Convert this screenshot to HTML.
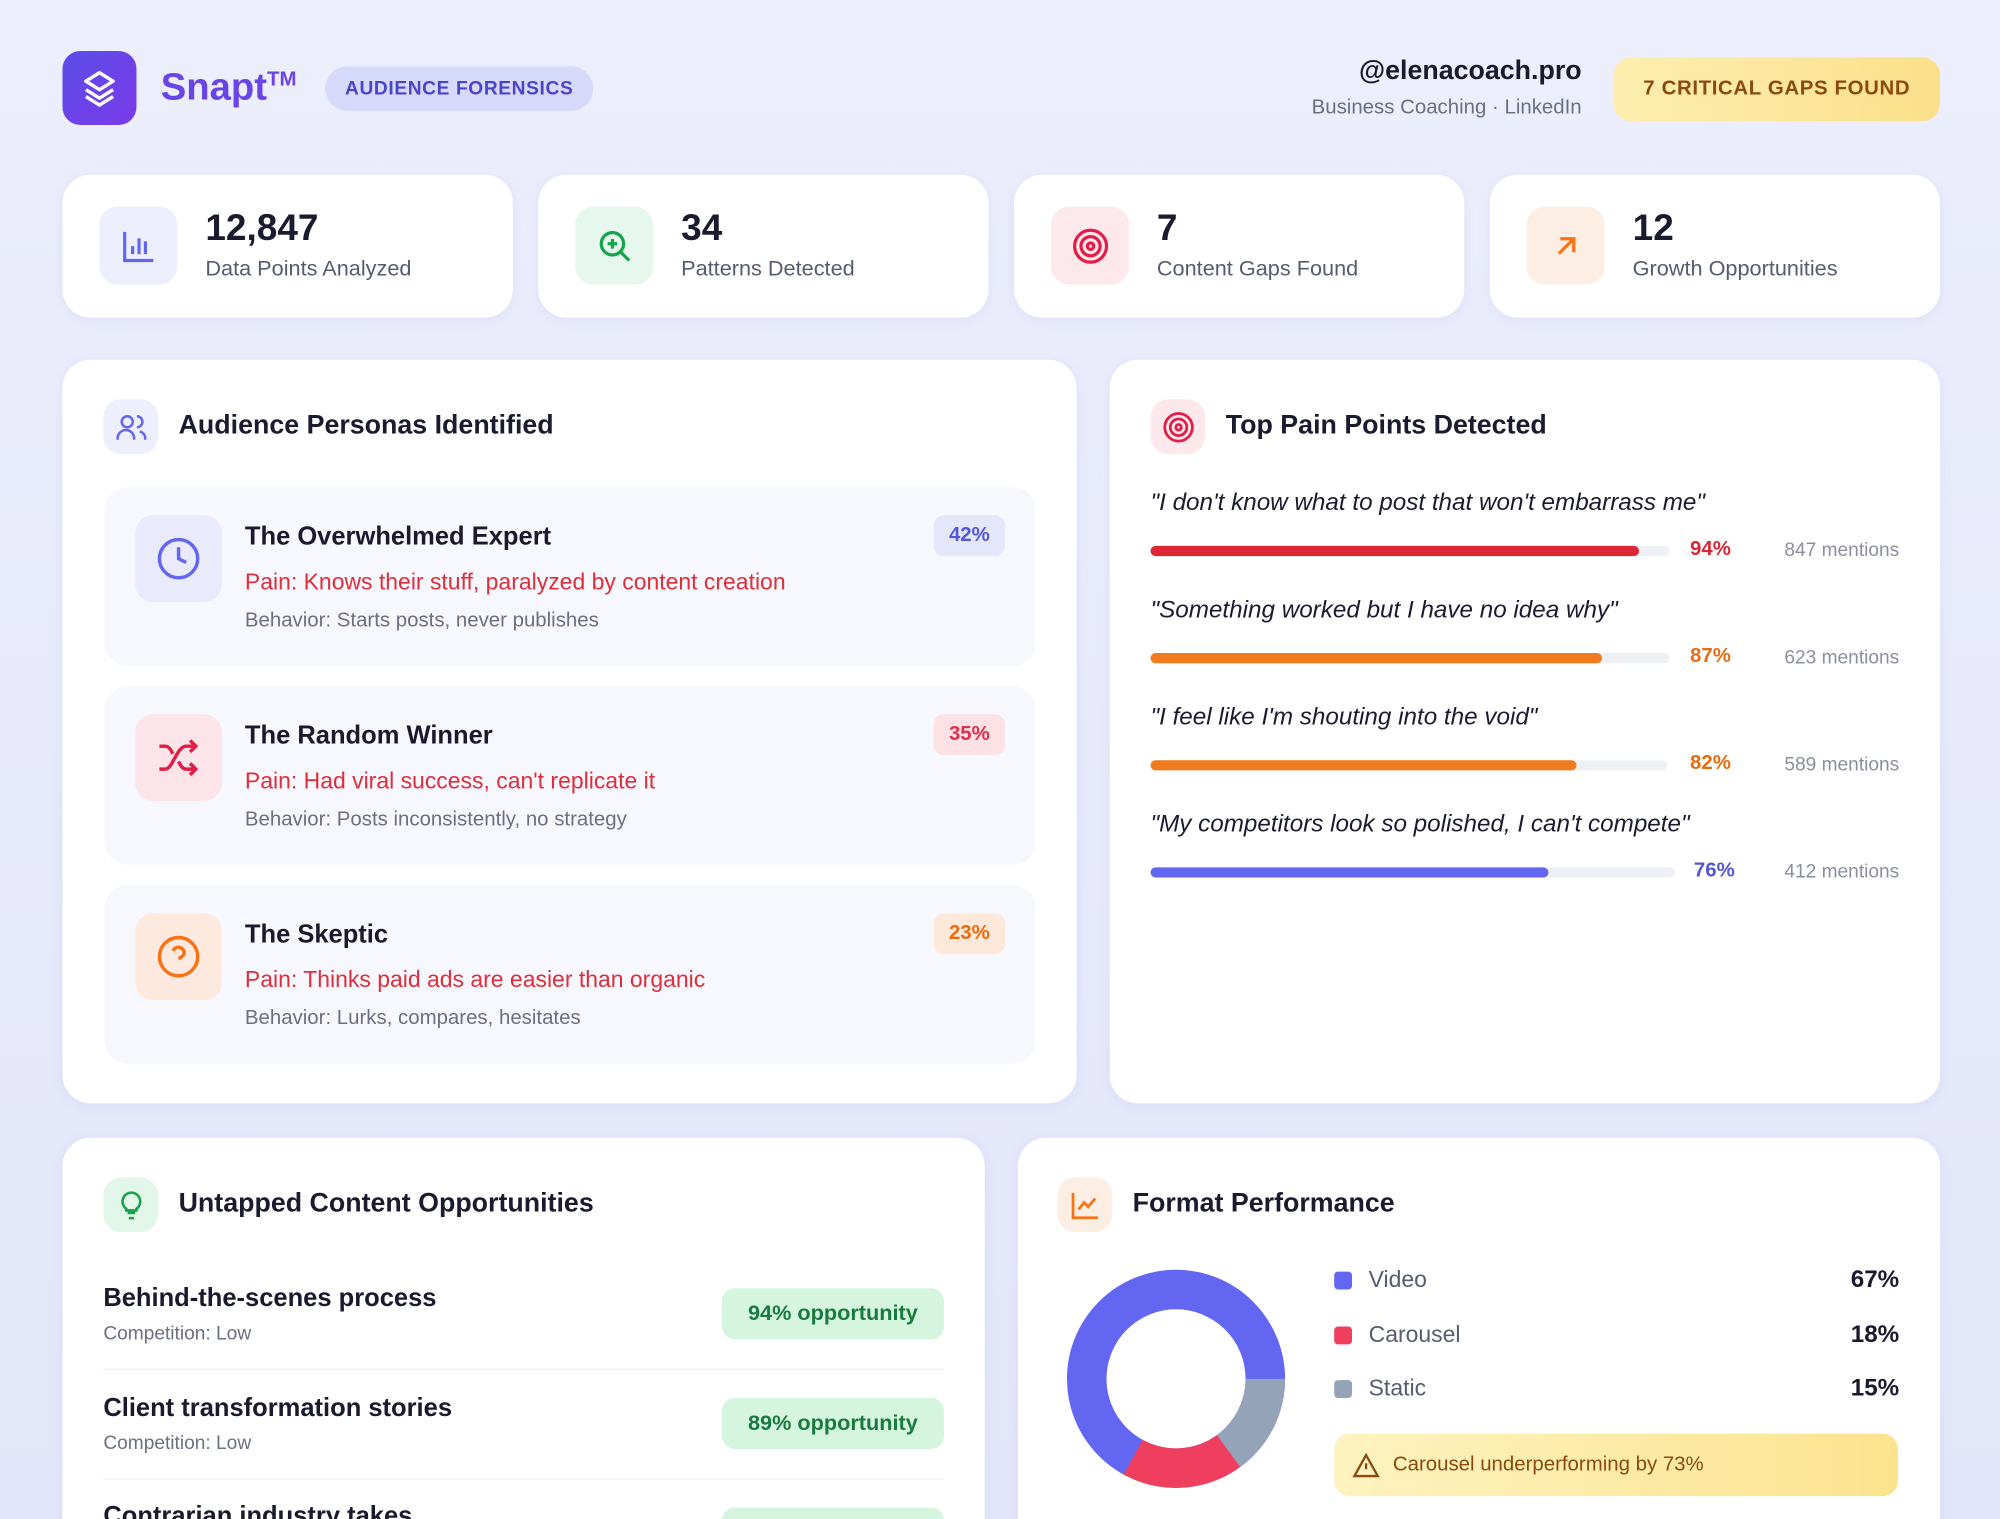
<!DOCTYPE html>
<html><head><meta charset="utf-8"><style>
*{box-sizing:border-box;margin:0;padding:0}
html,body{width:2000px;height:1519px;overflow:hidden;background:#e8ebfb}
#w{width:1568px;height:1191px;transform:scale(1.27551);transform-origin:0 0;position:relative;font-family:"Liberation Sans",sans-serif;color:#1a1a2e;background:linear-gradient(180deg,#eceefc,#e3e6fa)}
.a{position:absolute}
.card{position:absolute;background:#fff;border-radius:22px;box-shadow:0 2px 10px rgba(90,100,200,.08)}
.ic{position:absolute;border-radius:14px;display:flex;align-items:center;justify-content:center}
.big{font-size:29px;font-weight:bold;color:#1b1b2f}
.lab{font-size:17px;color:#555c6e}
.h{font-size:21px;font-weight:bold;color:#1b1b2f}
.per{position:absolute;left:82px;width:730px;height:140px;background:#f7f8fd;border-radius:18px}
.pt{position:absolute;left:110px;font-size:20px;font-weight:bold}
.pp{position:absolute;left:110px;top:64px;font-size:18px;color:#e02d3c}
.pb{position:absolute;left:110px;top:96px;font-size:16px;color:#6b7080}
.badge{position:absolute;right:24px;top:22px;padding:7px 12px;border-radius:8px;font-size:16px;font-weight:bold}
.q{position:absolute;left:32px;font-size:19px;font-style:italic;color:#1b1b2f}
.bar{position:absolute;left:32px;height:8px;border-radius:4px;background:#eef0f5}
.bar i{display:block;height:8px;border-radius:4px}
.pc{position:absolute;font-size:16px;font-weight:bold}
.mn{position:absolute;right:32px;font-size:15px;color:#8a8f9c}
.op{position:absolute;left:32px;font-size:20px;font-weight:bold}
.oc{position:absolute;left:32px;font-size:15px;color:#6b7080}
.ob{position:absolute;right:32px;width:174px;height:40px;border-radius:10px;background:#d5f5df;color:#187a3c;font-weight:bold;font-size:17px;text-align:center;line-height:40px}
</style></head><body><div id="w">
<div class="a" style="left:49px;top:40px;width:58px;height:58px;border-radius:14px;background:linear-gradient(135deg,#5b4de8,#7b3ae8);display:flex;align-items:center;justify-content:center">
<svg width="32" height="32" viewBox="0 0 24 24" fill="none" stroke="#fff" stroke-width="2" stroke-linejoin="round"><path d="M12 3l8 5-8 5-8-5z"/><path d="M4 13l8 5 8-5"/><path d="M4 17l8 5 8-5"/></svg></div>
<div class="a" style="left:126px;top:52px;font-size:30px;font-weight:bold;color:#6a45e5">Snapt<sup style="font-size:16px">TM</sup></div>
<div class="a" style="left:255px;top:52px;width:210px;height:35px;border-radius:18px;background:#d7d9fa;color:#4a45c8;font-weight:bold;font-size:15px;letter-spacing:.5px;text-align:center;line-height:35px">AUDIENCE FORENSICS</div>
<div class="a" style="right:328px;top:44px;font-size:21px;font-weight:bold;text-align:right">@elenacoach.pro</div>
<div class="a" style="right:328px;top:76px;font-size:16px;color:#6b7080;text-align:right">Business Coaching · LinkedIn</div>
<div class="a" style="left:1265px;top:45px;width:256px;height:50px;border-radius:14px;background:linear-gradient(90deg,#fdeeb0,#fbe08a);color:#8a4a10;font-weight:bold;font-size:16px;letter-spacing:.5px;text-align:center;line-height:50px">7 CRITICAL GAPS FOUND</div>

<div class="card" style="left:49px;top:137px;width:353px;height:112px"><div class="ic" style="left:29px;top:25px;width:61px;height:61px;background:#eeeffc"><svg width="30" height="30" viewBox="0 0 24 24" fill="none" stroke="#6366f1" stroke-width="2"><path d="M3 3v18h18M8 17v-5M12 17V7M16 17v-8"/></svg></div><div class="a big" style="left:112px;top:26px">12,847</div><div class="a lab" style="left:112px;top:64px">Data Points Analyzed</div></div>
<div class="card" style="left:422px;top:137px;width:353px;height:112px"><div class="ic" style="left:29px;top:25px;width:61px;height:61px;background:#e6f7ee"><svg width="30" height="30" viewBox="0 0 24 24" fill="none" stroke="#16a34a" stroke-width="2"><circle cx="10.5" cy="10.5" r="7"/><path d="M16 16l5 5M10.5 7.5v6M7.5 10.5h6"/></svg></div><div class="a big" style="left:112px;top:26px">34</div><div class="a lab" style="left:112px;top:64px">Patterns Detected</div></div>
<div class="card" style="left:795px;top:137px;width:353px;height:112px"><div class="ic" style="left:29px;top:25px;width:61px;height:61px;background:#fde8ec"><svg width="30" height="30" viewBox="0 0 24 24" fill="none" stroke="#e11d48" stroke-width="2"><circle cx="12" cy="12" r="10"/><circle cx="12" cy="12" r="6"/><circle cx="12" cy="12" r="2"/></svg></div><div class="a big" style="left:112px;top:26px">7</div><div class="a lab" style="left:112px;top:64px">Content Gaps Found</div></div>
<div class="card" style="left:1168px;top:137px;width:353px;height:112px"><div class="ic" style="left:29px;top:25px;width:61px;height:61px;background:#fdeee4"><svg width="28" height="28" viewBox="0 0 24 24" fill="none" stroke="#f97316" stroke-width="2.2"><path d="M7 17L17 7M8 7h9v9"/></svg></div><div class="a big" style="left:112px;top:26px">12</div><div class="a lab" style="left:112px;top:64px">Growth Opportunities</div></div>

<div class="card" style="left:49px;top:282px;width:795px;height:583px">
<div class="ic" style="left:32px;top:31px;width:43px;height:43px;background:#eeeffc"><svg width="26" height="26" viewBox="0 0 24 24" fill="none" stroke="#6366f1" stroke-width="1.8"><circle cx="9" cy="8" r="4"/><path d="M2 21v-1a6 6 0 0112 0v1M16 4a4 4 0 010 8M18 15a5 5 0 014 5v1"/></svg></div>
<div class="a h" style="left:91px;top:40px">Audience Personas Identified</div>
</div>
<div class="per" style="left:82px;top:382px"></div>
<div class="per" style="left:82px;top:538px"></div>
<div class="per" style="left:82px;top:694px"></div>
<div class="a" style="left:82px;top:382px;width:730px;height:140px">
<div class="ic" style="left:24px;top:22px;width:68px;height:68px;background:#e9eafb"><svg width="36" height="36" viewBox="0 0 24 24" fill="none" stroke="#6366f1" stroke-width="1.8"><circle cx="12" cy="12" r="10"/><path d="M12 6v6l4 2"/></svg></div>
<div class="pt" style="top:28px">The Overwhelmed Expert</div><div class="pp">Pain: Knows their stuff, paralyzed by content creation</div><div class="pb">Behavior: Starts posts, never publishes</div><div class="badge" style="background:#e4e6fb;color:#5356d8">42%</div></div>
<div class="a" style="left:82px;top:538px;width:730px;height:140px">
<div class="ic" style="left:24px;top:22px;width:68px;height:68px;background:#fce4e8"><svg width="36" height="36" viewBox="0 0 24 24" fill="none" stroke="#e11d48" stroke-width="1.8"><path d="M2 18h3c4 0 6-12 11-12h5M18 3l3 3-3 3M2 6h3c2 0 3 2 4 4M21 18h-5c-2 0-3-2-4-4M18 15l3 3-3 3"/></svg></div>
<div class="pt" style="top:28px">The Random Winner</div><div class="pp">Pain: Had viral success, can't replicate it</div><div class="pb">Behavior: Posts inconsistently, no strategy</div><div class="badge" style="background:#fce1e5;color:#e02d4c">35%</div></div>
<div class="a" style="left:82px;top:694px;width:730px;height:140px">
<div class="ic" style="left:24px;top:22px;width:68px;height:68px;background:#fde9dd"><svg width="36" height="36" viewBox="0 0 24 24" fill="none" stroke="#f97316" stroke-width="1.8"><circle cx="12" cy="12" r="10"/><path d="M9.1 9a3 3 0 015.8 1c0 2-3 3-3 3M12 17h.01"/></svg></div>
<div class="pt" style="top:28px">The Skeptic</div><div class="pp">Pain: Thinks paid ads are easier than organic</div><div class="pb">Behavior: Lurks, compares, hesitates</div><div class="badge" style="background:#fde8da;color:#ea6a10">23%</div></div>

<div class="card" style="left:870px;top:282px;width:651px;height:583px">
<div class="ic" style="left:32px;top:31px;width:43px;height:43px;background:#fde8ec"><svg width="26" height="26" viewBox="0 0 24 24" fill="none" stroke="#e11d48" stroke-width="2"><circle cx="12" cy="12" r="10"/><circle cx="12" cy="12" r="6"/><circle cx="12" cy="12" r="2"/></svg></div>
<div class="a h" style="left:91px;top:40px">Top Pain Points Detected</div>
<div class="q" style="top:102px">"I don't know what to post that won't embarrass me"</div>
<div class="bar" style="top:146px;width:407px"><i style="width:383px;background:#dc2634"></i></div><div class="pc" style="left:455px;top:140px;color:#dc2634">94%</div><div class="mn" style="top:141px">847 mentions</div>
<div class="q" style="top:186px">"Something worked but I have no idea why"</div>
<div class="bar" style="top:230px;width:407px"><i style="width:354px;background:#f07a1e"></i></div><div class="pc" style="left:455px;top:224px;color:#ea6a10">87%</div><div class="mn" style="top:225px">623 mentions</div>
<div class="q" style="top:270px">"I feel like I'm shouting into the void"</div>
<div class="bar" style="top:314px;width:405px"><i style="width:334px;background:#f07a1e"></i></div><div class="pc" style="left:455px;top:308px;color:#ea6a10">82%</div><div class="mn" style="top:309px">589 mentions</div>
<div class="q" style="top:354px">"My competitors look so polished, I can't compete"</div>
<div class="bar" style="top:398px;width:411px"><i style="width:312px;background:#6366f1"></i></div><div class="pc" style="left:458px;top:392px;color:#5356d8">76%</div><div class="mn" style="top:393px">412 mentions</div>
</div>

<div class="card" style="left:49px;top:892px;width:723px;height:330px">
<div class="ic" style="left:32px;top:31px;width:43px;height:43px;background:#e3f6ea"><svg width="24" height="24" viewBox="0 0 24 24" fill="none" stroke="#16a34a" stroke-width="2"><path d="M9 18h6M10 22h4M12 2a7 7 0 00-4 12.7V16h8v-1.3A7 7 0 0012 2z"/></svg></div>
<div class="a h" style="left:91px;top:40px">Untapped Content Opportunities</div>
<div class="op" style="top:115px">Behind-the-scenes process</div><div class="oc" style="top:145px">Competition: Low</div><div class="ob" style="top:118px">94% opportunity</div>
<div class="a" style="left:32px;right:32px;top:181px;height:1px;background:#eceef3"></div>
<div class="op" style="top:201px">Client transformation stories</div><div class="oc" style="top:231px">Competition: Low</div><div class="ob" style="top:204px">89% opportunity</div>
<div class="a" style="left:32px;right:32px;top:267px;height:1px;background:#eceef3"></div>
<div class="op" style="top:286px">Contrarian industry takes</div><div class="ob" style="top:290px">85% opportunity</div>
</div>

<div class="card" style="left:798px;top:892px;width:723px;height:330px">
<div class="ic" style="left:31px;top:31px;width:43px;height:43px;background:#fdeee4"><svg width="26" height="26" viewBox="0 0 24 24" fill="none" stroke="#f97316" stroke-width="2"><path d="M3 3v18h18M7 15l4-5 3 3 5-6"/></svg></div>
<div class="a h" style="left:90px;top:40px">Format Performance</div>
<svg class="a" style="left:38px;top:103px" width="172" height="172" viewBox="0 0 172 172">
<g transform="translate(86,86)" fill="none" stroke-width="31">
<circle r="70" stroke="#6366f1"/>
<circle r="70" stroke="#94a3b8" stroke-dasharray="66 500" transform="rotate(0)"/>
<circle r="70" stroke="#f03e5e" stroke-dasharray="79 500" transform="rotate(54)"/>
</g></svg>
<div class="a" style="left:248px;top:105px;width:14px;height:14px;border-radius:3px;background:#6366f1"></div><div class="a lab" style="left:275px;top:101px;font-size:18px">Video</div><div class="a" style="right:32px;top:101px;font-size:19px;font-weight:bold">67%</div>
<div class="a" style="left:248px;top:148px;width:14px;height:14px;border-radius:3px;background:#f03e5e"></div><div class="a lab" style="left:275px;top:144px;font-size:18px">Carousel</div><div class="a" style="right:32px;top:144px;font-size:19px;font-weight:bold">18%</div>
<div class="a" style="left:248px;top:190px;width:14px;height:14px;border-radius:3px;background:#94a3b8"></div><div class="a lab" style="left:275px;top:186px;font-size:18px">Static</div><div class="a" style="right:32px;top:186px;font-size:19px;font-weight:bold">15%</div>
<div class="a" style="left:248px;top:232px;width:442px;height:49px;border-radius:12px;background:linear-gradient(90deg,#fef3c0,#fbe38e);color:#8a4a10;font-size:16px;line-height:49px;padding-left:46px">Carousel underperforming by 73%</div>
<svg class="a" style="left:262px;top:246px" width="22" height="22" viewBox="0 0 24 24" fill="none" stroke="#8a4a10" stroke-width="2"><path d="M12 3L2 21h20z M12 10v5M12 18h.01"/></svg>
</div>
</div></body></html>
